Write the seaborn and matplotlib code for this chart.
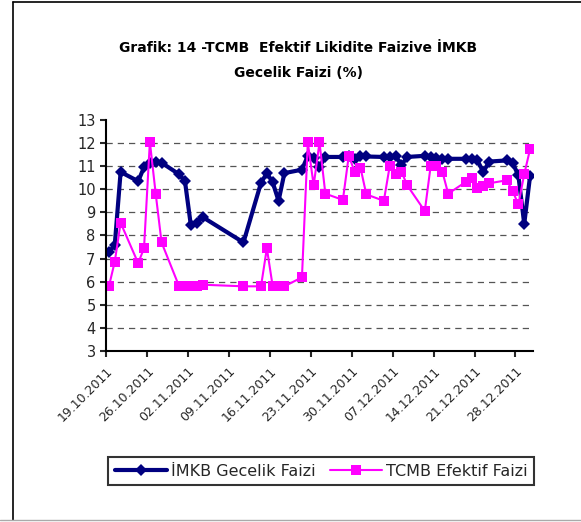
import pandas as pd
import seaborn as sns
import matplotlib.pyplot as plt
from matplotlib.lines import Line2D

# Data (business days only)
dates = ["19.10.2011", "20.10.2011", "21.10.2011",
         "24.10.2011", "25.10.2011", "26.10.2011", "27.10.2011", "28.10.2011",
         "31.10.2011", "01.11.2011", "02.11.2011", "03.11.2011", "04.11.2011",
         "11.11.2011",
         "14.11.2011", "15.11.2011", "16.11.2011", "17.11.2011", "18.11.2011",
         "21.11.2011", "22.11.2011", "23.11.2011", "24.11.2011", "25.11.2011",
         "28.11.2011", "29.11.2011", "30.11.2011", "01.12.2011", "02.12.2011",
         "05.12.2011", "06.12.2011", "07.12.2011", "08.12.2011", "09.12.2011",
         "12.12.2011", "13.12.2011", "14.12.2011", "15.12.2011", "16.12.2011",
         "19.12.2011", "20.12.2011", "21.12.2011", "22.12.2011", "23.12.2011",
         "26.12.2011", "27.12.2011", "28.12.2011", "29.12.2011", "30.12.2011"]

imkb = [7.27, 7.6, 10.75,
        10.35, 10.95, 11.15, 11.2, 11.15,
        10.65, 10.35, 8.45, 8.55, 8.8,
        7.7,
        10.28, 10.7, 10.3, 9.5, 10.7,
        10.85, 11.45, 11.35, 10.98, 11.4,
        11.4, 11.42, 11.3, 11.45, 11.42,
        11.4, 11.38, 11.45, 11.05, 11.4,
        11.45, 11.38, 11.35, 11.32, 11.32,
        11.32, 11.3, 11.25, 10.75, 11.2,
        11.25, 11.15, 10.6, 8.5, 10.58]

tcmb = [5.8, 6.87, 8.55,
        6.8, 7.45, 12.05, 9.8, 7.7,
        5.8, 5.8, 5.8, 5.8, 5.87,
        5.8,
        5.8, 7.45, 5.8, 5.8, 5.8,
        6.19, 12.03, 10.17, 12.03, 9.81,
        9.54, 11.45, 10.77, 10.94, 9.78,
        9.5, 11.0, 10.65, 10.77, 10.17,
        9.06, 11.0, 11.0, 10.77, 9.81,
        10.32, 10.48, 10.07, 10.14, 10.26,
        10.39, 9.93, 9.35, 10.65, 11.74]

labels = ["İMKB Gecelik Faizi", "TCMB Efektif Faizi"]

df = pd.DataFrame({"date": pd.to_datetime(dates, format="%d.%m.%Y"),
                   labels[0]: imkb, labels[1]: tcmb})
# Excel date axis puts points in the middle of the day slot
df["x"] = df["date"] + pd.Timedelta(hours=12)

sns.set_style("white")
plt.rcParams['font.family'] = ['DejaVu Sans']

fig = plt.figure(figsize=(5.81, 5.22), dpi=100)
ax = fig.add_axes([106 / 581, 1 - 351 / 522, 427 / 581, 231 / 522])

sns.lineplot(data=df, x="x", y=labels[0], ax=ax, color="#000080",
             linewidth=3.0, marker="D", markersize=6.5, markeredgewidth=0,
             label=labels[0])
sns.lineplot(data=df, x="x", y=labels[1], ax=ax, color="#FF00FF",
             linewidth=1.5, marker="s", markersize=7, markeredgewidth=0,
             label=labels[1])

ax.set_ylim(3, 13)
ax.set_yticks(range(3, 14))
ax.set_xlim(pd.Timestamp("2011-10-19"), pd.Timestamp("2011-12-31"))
ticks = pd.date_range("2011-10-19", "2011-12-28", freq="7D")
ax.set_xticks(ticks)
ax.set_xticklabels([t.strftime("%d.%m.%Y") for t in ticks], rotation=45,
                   ha="right", rotation_mode="anchor", fontsize=9)
ax.tick_params(axis="y", labelsize=10.5, length=4, width=1.5, direction="out", left=True)
ax.tick_params(axis="x", length=4, width=1.5, direction="out", bottom=True, pad=6)
ax.set_xlabel("")
ax.set_ylabel("")

for v in range(4, 13):
    ax.axhline(v, color="#555555", linestyle=(0, (5, 4)), linewidth=0.9, zorder=0)

for side in ["top", "right"]:
    ax.spines[side].set_visible(False)
for side in ["left", "bottom"]:
    ax.spines[side].set_color("black")
    ax.spines[side].set_linewidth(1.5)

ax.legend_.remove()
fig.legend(handles=ax.get_lines()[:2], labels=labels, loc="center",
           bbox_to_anchor=(321 / 581, 1 - 471 / 522), ncol=2, fontsize=11.5,
           frameon=True, fancybox=False, edgecolor="black", handlelength=3.3,
           columnspacing=0.9, handletextpad=0.2, borderpad=0.4)
fig.legends[0].get_frame().set_linewidth(1.5)

fig.text(298 / 581, 1 - 48 / 522, "Grafik: 14 -TCMB  Efektif Likidite Faizive İMKB",
         ha="center", va="center", fontsize=10, fontweight="bold", color="black")
fig.text(298 / 581, 1 - 73 / 522, "Gecelik Faizi (%)",
         ha="center", va="center", fontsize=10, fontweight="bold", color="black")

# outer chart border
fig.add_artist(Line2D([13 / 581, 13 / 581], [1 - 2 / 522, 1 - 520 / 522],
                      transform=fig.transFigure, color="black", linewidth=1.2))
fig.add_artist(Line2D([13 / 581, 1], [1 - 2 / 522, 1 - 2 / 522],
                      transform=fig.transFigure, color="black", linewidth=1.2))
fig.add_artist(Line2D([0, 1], [1 - 520 / 522, 1 - 520 / 522],
                      transform=fig.transFigure, color="#aaaaaa", linewidth=1))

fig.savefig("out.png", dpi=100)
